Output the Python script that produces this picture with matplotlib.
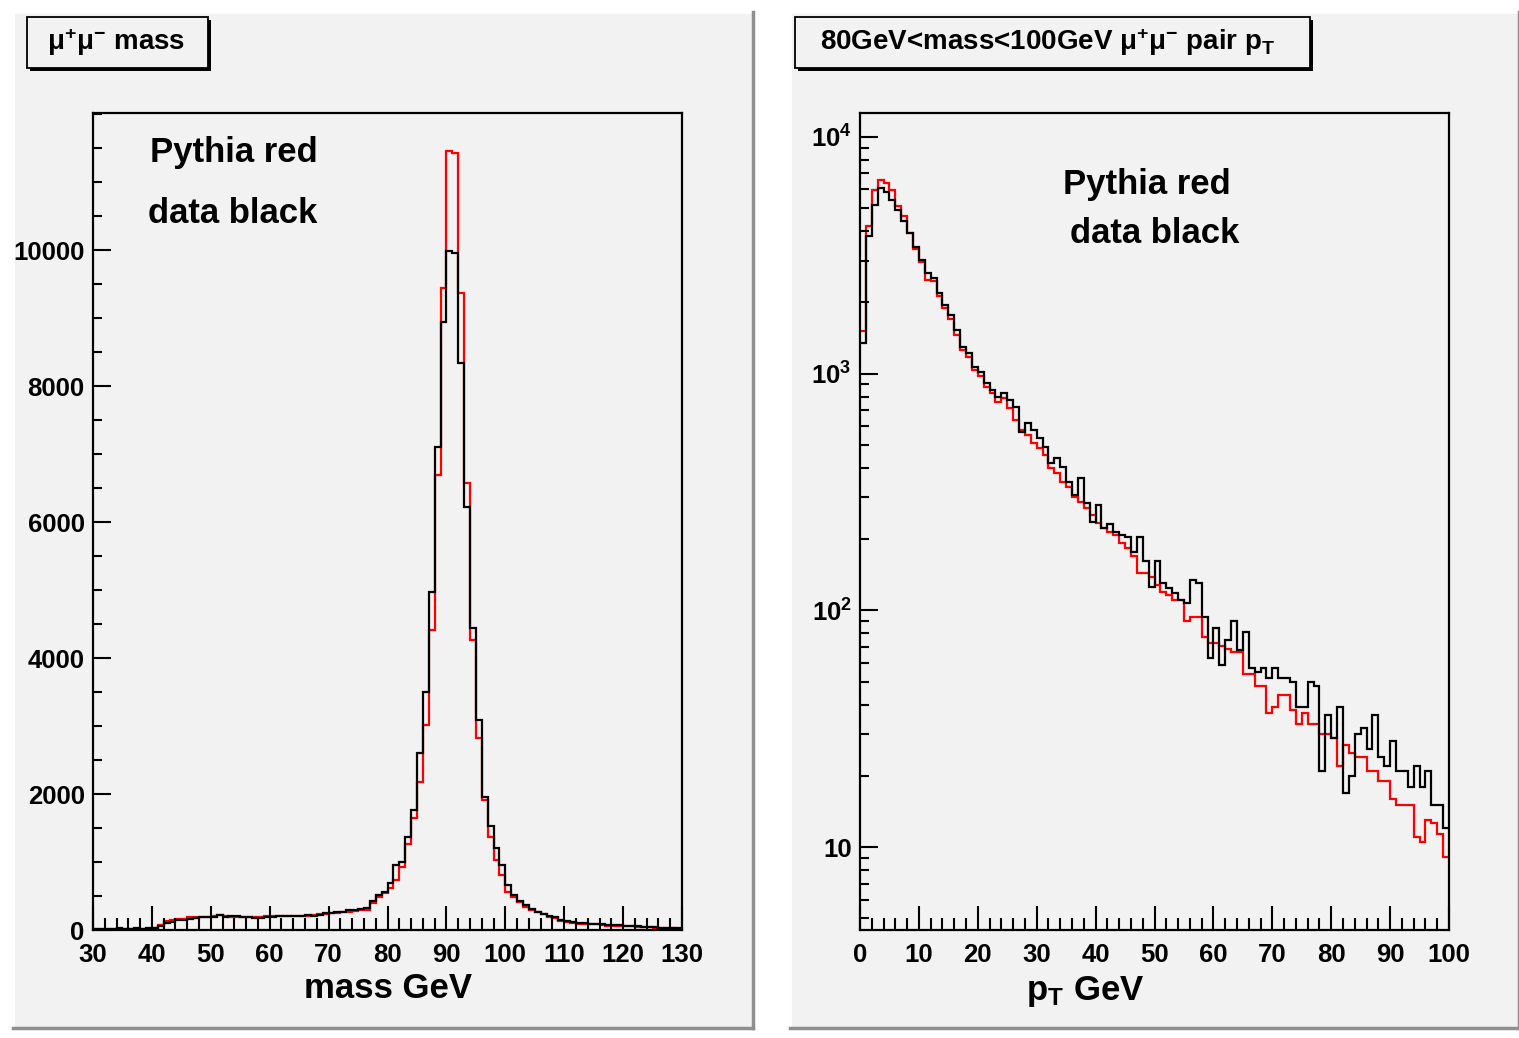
import numpy as np
import matplotlib
matplotlib.use("Agg")
import matplotlib.pyplot as plt
from matplotlib.patches import Rectangle
from matplotlib.ticker import MultipleLocator, FixedLocator, LogLocator, NullFormatter

plt.rcParams['font.family'] = ['Liberation Sans', 'DejaVu Sans']
plt.rcParams['font.weight'] = 'bold'
plt.rcParams['mathtext.fontset'] = 'custom'
plt.rcParams['mathtext.rm'] = 'Liberation Sans'
plt.rcParams['mathtext.bf'] = 'Liberation Sans:bold'
plt.rcParams['mathtext.it'] = 'Liberation Sans:italic'

W, H = 1519, 1038

# mu+mu- invariant mass, 1 GeV bins from 30 to 130
mass_edges = np.linspace(30, 130, 101)
mass_data = [20, 15, 20, 20, 25, 20, 20, 25, 20, 25,
             30, 65, 110, 125, 150, 150, 165, 170, 190, 195,
             195, 220, 195, 205, 205, 185, 185, 180, 180, 185,
             185, 200, 210, 210, 205, 210, 215, 210, 220, 255,
             255, 260, 265, 295, 300, 310, 330, 420, 515, 565,
             690, 955, 1005, 1370, 1765, 2600, 3500, 4970, 7110, 8945,
             9985, 9950, 8340, 6220, 4440, 3090, 1960, 1530, 1200, 955,
             660, 515, 430, 370, 310, 270, 235, 210, 185, 150,
             135, 125, 110, 105, 95, 95, 85, 80, 75, 70,
             65, 60, 55, 45, 40, 40, 30, 30, 25, 25]
mass_pythia = [10, 10, 15, 10, 15, 15, 10, 15, 15, 20,
               25, 70, 130, 150, 160, 160, 185, 190, 195, 195,
               200, 220, 200, 195, 195, 185, 185, 185, 190, 205,
               205, 205, 205, 200, 205, 210, 205, 215, 230, 240,
               245, 250, 260, 270, 285, 290, 300, 400, 480, 540,
               620, 740, 930, 1270, 1640, 2180, 3015, 4410, 6690, 9440,
               11450, 11420, 9370, 6570, 4260, 2820, 1910, 1370, 1030, 810,
               560, 480, 410, 345, 295, 260, 230, 195, 170, 130,
               115, 105, 95, 90, 85, 85, 75, 65, 65, 60,
               55, 55, 50, 40, 40, 35, 30, 25, 25, 20]
mass_ticks = [0, 2000, 4000, 6000, 8000, 10000]

# pair pT for 80 < mass < 100 GeV, 1 GeV bins from 0 to 100
pt_edges = np.linspace(0, 100, 101)
pt_data = [1340, 3800, 5160, 6060, 5870, 5420, 4920, 4390, 3920, 3440,
           3020, 2650, 2530, 2190, 1950, 1770, 1530, 1300, 1220, 1070,
           1020, 910, 853, 800, 830, 774, 726, 569, 621, 578,
           533, 492, 418, 439, 405, 350, 307, 361, 283, 237,
           279, 222, 232, 215, 208, 205, 177, 205, 161, 126,
           161, 130, 124, 118, 111, 107, 134, 130, 94, 63,
           84, 59, 75, 90, 68, 81, 57, 55, 57, 52,
           57, 52, 52, 50, 39, 39, 50, 48, 21, 36,
           29, 39, 17, 20, 30, 32, 26, 36, 24, 22,
           28, 21, 21, 18, 22, 18, 21, 15, 15, 12]
pt_pythia = [1520, 4180, 5970, 6580, 6400, 5970, 5080, 4650, 3920, 3350,
             2950, 2480, 2450, 2120, 1900, 1700, 1450, 1260, 1180, 1040,
             980, 880, 830, 760, 787, 714, 637, 578, 551, 508,
             484, 454, 398, 379, 350, 333, 302, 288, 270, 253,
             233, 222, 215, 208, 192, 183, 169, 144, 144, 139,
             128, 120, 116, 111, 111, 90, 94, 94, 77, 73,
             73, 71, 69, 67, 67, 54, 54, 48, 48, 37,
             39, 44, 44, 38, 33, 37, 33, 33, 30, 30,
             29, 22, 27, 25, 24, 24, 21, 21, 19, 19,
             16, 15, 15, 15, 11, 10.5, 13, 12.6, 11.4, 9.1]
pt_ticks = [10, 100, 1000, 10000]
pt_ticklabels = ['10', r'$\mathbf{10^{2}}$', r'$\mathbf{10^{3}}$', r'$\mathbf{10^{4}}$']

pad_color = '#f2f2f2'


def fx(x):
    return x / W


def fy(y):
    return 1 - y / H


fig = plt.figure(figsize=(W / 100, H / 100), dpi=100)
fig.patch.set_facecolor('white')


def draw_pad(x0, x1, y0, y1):
    fig.add_artist(Rectangle((fx(x0), fy(y1)), fx(x1) - fx(x0), fy(y0) - fy(y1),
                             transform=fig.transFigure, facecolor=pad_color,
                             edgecolor='none', zorder=-10))
    # ROOT style bevel: light top/left, dark bottom/right
    fig.add_artist(plt.Line2D([fx(x0), fx(x1)], [fy(y0), fy(y0)], transform=fig.transFigure,
                              color='white', lw=2, zorder=-9))
    fig.add_artist(plt.Line2D([fx(x0), fx(x0)], [fy(y0), fy(y1)], transform=fig.transFigure,
                              color='white', lw=2, zorder=-9))
    fig.add_artist(plt.Line2D([fx(x0), fx(x1)], [fy(y1), fy(y1)], transform=fig.transFigure,
                              color='#8f8f8f', lw=2.5, zorder=-9))
    fig.add_artist(plt.Line2D([fx(x1), fx(x1)], [fy(y0), fy(y1)], transform=fig.transFigure,
                              color='#8f8f8f', lw=2.5, zorder=-9))


def draw_title(x0, x1, y0, y1, text, tx):
    fig.add_artist(Rectangle((fx(x0 + 3), fy(y1 + 3)), fx(x1) - fx(x0), fy(y0) - fy(y1),
                             transform=fig.transFigure, facecolor='black',
                             edgecolor='none', zorder=5))
    fig.add_artist(Rectangle((fx(x0), fy(y1)), fx(x1) - fx(x0), fy(y0) - fy(y1),
                             transform=fig.transFigure, facecolor=pad_color,
                             edgecolor='black', lw=1.3, zorder=6))
    fig.text(fx(tx), fy((y0 + y1) / 2), text, fontsize=20, fontweight='bold',
             ha='left', va='center', zorder=7)


draw_pad(13, 753, 12, 1028)
draw_pad(790, 1519, 12, 1028)

ax1 = fig.add_axes([fx(93), fy(930), fx(682) - fx(93), fy(113) - fy(930)])
ax2 = fig.add_axes([fx(860), fy(930), fx(1449) - fx(860), fy(113) - fy(930)])

for ax in (ax1, ax2):
    ax.set_facecolor(pad_color)
    for s in ax.spines.values():
        s.set_linewidth(1.6)
    ax.tick_params(which='both', direction='in', top=False, right=False,
                   width=1.5, labelsize=18.5, pad=6)
    ax.tick_params(axis='x', which='major', length=17.5, pad=9)
    ax.tick_params(axis='x', which='minor', length=9)
    ax.tick_params(axis='y', which='major', length=13)
    ax.tick_params(axis='y', which='minor', length=6.5)

# left: mass
ax1.stairs(mass_pythia, mass_edges, color='red', lw=1.6)
ax1.stairs(mass_data, mass_edges, color='black', lw=1.6)
ax1.set_xlim(30, 130)
ax1.set_ylim(0, 12015)
ax1.xaxis.set_major_locator(MultipleLocator(10))
ax1.xaxis.set_minor_locator(MultipleLocator(2))
ax1.yaxis.set_major_locator(FixedLocator(mass_ticks))
ax1.yaxis.set_minor_locator(MultipleLocator(500))
for lab in ax1.get_xticklabels() + ax1.get_yticklabels():
    lab.set_fontweight('bold')
ax1.set_xlabel('mass GeV', fontsize=25, fontweight='bold')
ax1.xaxis.set_label_coords(0.5, -0.052)
ax1.text(0.097, 0.952, 'Pythia red', transform=ax1.transAxes, fontsize=25,
         fontweight='bold', ha='left', va='center')
ax1.text(0.093, 0.877, 'data black', transform=ax1.transAxes, fontsize=25,
         fontweight='bold', ha='left', va='center')

# right: pair pT
ax2.stairs(pt_pythia, pt_edges, color='red', lw=1.6, baseline=None)
ax2.stairs(pt_data, pt_edges, color='black', lw=1.6, baseline=None)
ax2.set_yscale('log')
ax2.set_xlim(0, 100)
ax2.set_ylim(4.47, 12600)
ax2.xaxis.set_major_locator(MultipleLocator(10))
ax2.xaxis.set_minor_locator(MultipleLocator(2))
ax2.yaxis.set_major_locator(FixedLocator(pt_ticks))
ax2.yaxis.set_minor_locator(LogLocator(base=10, subs=np.arange(2, 10)))
ax2.yaxis.set_minor_formatter(NullFormatter())
ax2.set_yticklabels(pt_ticklabels, fontsize=18.5, fontweight='bold')
for lab in ax2.get_xticklabels():
    lab.set_fontweight('bold')
ax2.set_xlabel(r'$\mathbf{p_{T}}$ GeV', fontsize=25, fontweight='bold')
ax2.xaxis.set_label_coords(0.382, -0.054)
ax2.text(0.345, 0.912, 'Pythia red', transform=ax2.transAxes, fontsize=25,
         fontweight='bold', ha='left', va='center')
ax2.text(0.357, 0.852, 'data black', transform=ax2.transAxes, fontsize=25,
         fontweight='bold', ha='left', va='center')

draw_title(27, 208, 17, 68, r'$\mathrm{\mu^{+}\mu^{-}}$ mass', 47)
draw_title(795, 1310, 17, 68, r'80GeV<mass<100GeV $\mathrm{\mu^{+}\mu^{-}}$ pair $\mathbf{p_{T}}$', 820)

fig.savefig('out.png', dpi=100)
